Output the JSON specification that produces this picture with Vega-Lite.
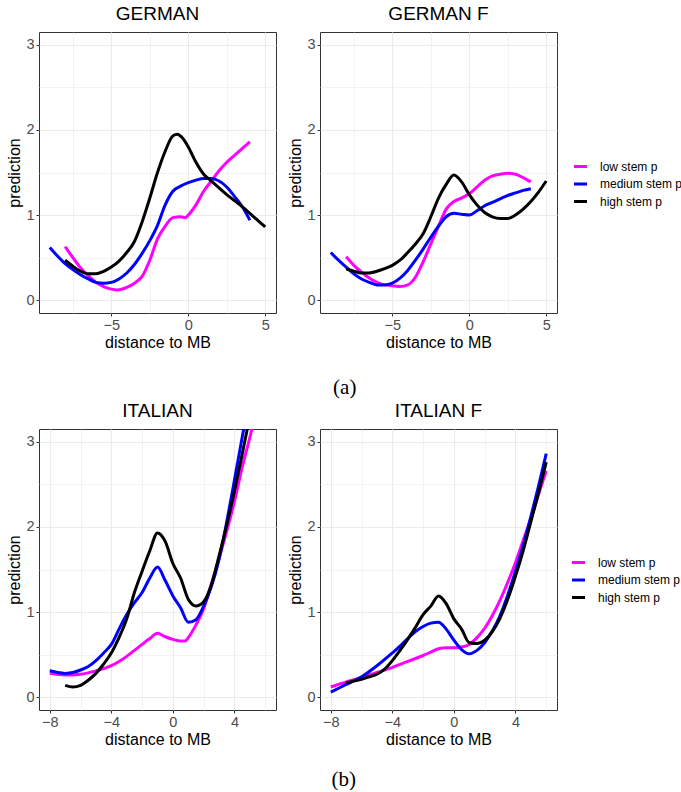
{
  "$schema": "https://vega.github.io/schema/vega-lite/v6.json",
  "padding": {"left": 6, "top": 4, "right": 0, "bottom": 0},
  "spacing": 3,
  "config": {
    "font": "Liberation Sans",
    "view": {"stroke": "#333333", "strokeWidth": 1},
    "axis": {
      "labelFont": "Liberation Sans", "labelFontSize": 14.5, "labelColor": "#4D4D4D",
      "titleFont": "Liberation Sans", "titleFontSize": 16, "titleFontWeight": "normal", "titleColor": "#000000",
      "domain": false, "tickColor": "#333333", "tickSize": 3, "labelPadding": 2, "titlePadding": 3,
      "gridColor": "#EBEBEB"
    },
    "title": {"font": "Liberation Sans", "fontSize": 19, "fontWeight": "normal", "color": "#000000", "offset": 8, "anchor": "middle"},
    "legend": {
      "title": null, "symbolType": "stroke", "symbolStrokeWidth": 3, "symbolSize": 170,
      "labelFont": "Liberation Sans", "labelFontSize": 12, "labelColor": "#000000",
      "rowPadding": 2.5, "labelOffset": 11
    }
  },
  "data": {"values": [
    {"p":"G","s":"low stem p","x":-8,"y":0.63},{"p":"G","s":"low stem p","x":-7.5,"y":0.5},{"p":"G","s":"low stem p","x":-7,"y":0.38},{"p":"G","s":"low stem p","x":-6.5,"y":0.29},{"p":"G","s":"low stem p","x":-6,"y":0.21},{"p":"G","s":"low stem p","x":-5.5,"y":0.16},{"p":"G","s":"low stem p","x":-5,"y":0.13},{"p":"G","s":"low stem p","x":-4.6,"y":0.12},{"p":"G","s":"low stem p","x":-4,"y":0.15},{"p":"G","s":"low stem p","x":-3.5,"y":0.2},{"p":"G","s":"low stem p","x":-3,"y":0.28},{"p":"G","s":"low stem p","x":-2.5,"y":0.47},{"p":"G","s":"low stem p","x":-2,"y":0.72},{"p":"G","s":"low stem p","x":-1.5,"y":0.87},{"p":"G","s":"low stem p","x":-1,"y":0.97},{"p":"G","s":"low stem p","x":-0.5,"y":0.98},{"p":"G","s":"low stem p","x":-0.2,"y":0.97},{"p":"G","s":"low stem p","x":0,"y":1.0},{"p":"G","s":"low stem p","x":0.5,"y":1.12},{"p":"G","s":"low stem p","x":1,"y":1.28},{"p":"G","s":"low stem p","x":1.5,"y":1.4},{"p":"G","s":"low stem p","x":2,"y":1.52},{"p":"G","s":"low stem p","x":2.5,"y":1.62},{"p":"G","s":"low stem p","x":3,"y":1.7},{"p":"G","s":"low stem p","x":3.5,"y":1.78},{"p":"G","s":"low stem p","x":4,"y":1.86},
    {"p":"G","s":"medium stem p","x":-9,"y":0.62},{"p":"G","s":"medium stem p","x":-8.5,"y":0.52},{"p":"G","s":"medium stem p","x":-8,"y":0.43},{"p":"G","s":"medium stem p","x":-7.5,"y":0.36},{"p":"G","s":"medium stem p","x":-7,"y":0.3},{"p":"G","s":"medium stem p","x":-6.5,"y":0.25},{"p":"G","s":"medium stem p","x":-6,"y":0.21},{"p":"G","s":"medium stem p","x":-5.5,"y":0.2},{"p":"G","s":"medium stem p","x":-5,"y":0.21},{"p":"G","s":"medium stem p","x":-4.5,"y":0.25},{"p":"G","s":"medium stem p","x":-4,"y":0.32},{"p":"G","s":"medium stem p","x":-3.5,"y":0.42},{"p":"G","s":"medium stem p","x":-3,"y":0.55},{"p":"G","s":"medium stem p","x":-2.5,"y":0.7},{"p":"G","s":"medium stem p","x":-2,"y":0.88},{"p":"G","s":"medium stem p","x":-1.5,"y":1.12},{"p":"G","s":"medium stem p","x":-1,"y":1.28},{"p":"G","s":"medium stem p","x":-0.5,"y":1.34},{"p":"G","s":"medium stem p","x":0,"y":1.38},{"p":"G","s":"medium stem p","x":0.5,"y":1.41},{"p":"G","s":"medium stem p","x":1,"y":1.43},{"p":"G","s":"medium stem p","x":1.5,"y":1.43},{"p":"G","s":"medium stem p","x":2,"y":1.4},{"p":"G","s":"medium stem p","x":2.5,"y":1.33},{"p":"G","s":"medium stem p","x":3,"y":1.22},{"p":"G","s":"medium stem p","x":3.5,"y":1.1},{"p":"G","s":"medium stem p","x":4,"y":0.94},
    {"p":"G","s":"high stem p","x":-8,"y":0.47},{"p":"G","s":"high stem p","x":-7.5,"y":0.4},{"p":"G","s":"high stem p","x":-7,"y":0.34},{"p":"G","s":"high stem p","x":-6.5,"y":0.31},{"p":"G","s":"high stem p","x":-6,"y":0.31},{"p":"G","s":"high stem p","x":-5.5,"y":0.34},{"p":"G","s":"high stem p","x":-5,"y":0.39},{"p":"G","s":"high stem p","x":-4.5,"y":0.46},{"p":"G","s":"high stem p","x":-4,"y":0.56},{"p":"G","s":"high stem p","x":-3.5,"y":0.69},{"p":"G","s":"high stem p","x":-3,"y":0.92},{"p":"G","s":"high stem p","x":-2.5,"y":1.2},{"p":"G","s":"high stem p","x":-2,"y":1.5},{"p":"G","s":"high stem p","x":-1.5,"y":1.75},{"p":"G","s":"high stem p","x":-1,"y":1.93},{"p":"G","s":"high stem p","x":-0.7,"y":1.95},{"p":"G","s":"high stem p","x":-0.4,"y":1.91},{"p":"G","s":"high stem p","x":0,"y":1.8},{"p":"G","s":"high stem p","x":0.5,"y":1.62},{"p":"G","s":"high stem p","x":1,"y":1.48},{"p":"G","s":"high stem p","x":1.5,"y":1.4},{"p":"G","s":"high stem p","x":2,"y":1.32},{"p":"G","s":"high stem p","x":2.5,"y":1.24},{"p":"G","s":"high stem p","x":3,"y":1.17},{"p":"G","s":"high stem p","x":3.5,"y":1.1},{"p":"G","s":"high stem p","x":4,"y":1.02},{"p":"G","s":"high stem p","x":4.5,"y":0.94},{"p":"G","s":"high stem p","x":5,"y":0.86},
    {"p":"GF","s":"low stem p","x":-8,"y":0.51},{"p":"GF","s":"low stem p","x":-7.5,"y":0.41},{"p":"GF","s":"low stem p","x":-7,"y":0.33},{"p":"GF","s":"low stem p","x":-6.5,"y":0.26},{"p":"GF","s":"low stem p","x":-6,"y":0.21},{"p":"GF","s":"low stem p","x":-5.5,"y":0.18},{"p":"GF","s":"low stem p","x":-5,"y":0.17},{"p":"GF","s":"low stem p","x":-4.5,"y":0.16},{"p":"GF","s":"low stem p","x":-4,"y":0.18},{"p":"GF","s":"low stem p","x":-3.5,"y":0.27},{"p":"GF","s":"low stem p","x":-3,"y":0.45},{"p":"GF","s":"low stem p","x":-2.5,"y":0.66},{"p":"GF","s":"low stem p","x":-2,"y":0.87},{"p":"GF","s":"low stem p","x":-1.5,"y":1.07},{"p":"GF","s":"low stem p","x":-1,"y":1.16},{"p":"GF","s":"low stem p","x":-0.5,"y":1.2},{"p":"GF","s":"low stem p","x":0,"y":1.25},{"p":"GF","s":"low stem p","x":0.5,"y":1.33},{"p":"GF","s":"low stem p","x":1,"y":1.41},{"p":"GF","s":"low stem p","x":1.5,"y":1.46},{"p":"GF","s":"low stem p","x":2,"y":1.48},{"p":"GF","s":"low stem p","x":2.5,"y":1.49},{"p":"GF","s":"low stem p","x":3,"y":1.48},{"p":"GF","s":"low stem p","x":3.5,"y":1.44},{"p":"GF","s":"low stem p","x":4,"y":1.39},
    {"p":"GF","s":"medium stem p","x":-9,"y":0.56},{"p":"GF","s":"medium stem p","x":-8.5,"y":0.47},{"p":"GF","s":"medium stem p","x":-8,"y":0.39},{"p":"GF","s":"medium stem p","x":-7.5,"y":0.31},{"p":"GF","s":"medium stem p","x":-7,"y":0.25},{"p":"GF","s":"medium stem p","x":-6.5,"y":0.21},{"p":"GF","s":"medium stem p","x":-6,"y":0.18},{"p":"GF","s":"medium stem p","x":-5.5,"y":0.18},{"p":"GF","s":"medium stem p","x":-5,"y":0.2},{"p":"GF","s":"medium stem p","x":-4.5,"y":0.26},{"p":"GF","s":"medium stem p","x":-4,"y":0.35},{"p":"GF","s":"medium stem p","x":-3.5,"y":0.47},{"p":"GF","s":"medium stem p","x":-3,"y":0.6},{"p":"GF","s":"medium stem p","x":-2.5,"y":0.74},{"p":"GF","s":"medium stem p","x":-2,"y":0.87},{"p":"GF","s":"medium stem p","x":-1.5,"y":0.98},{"p":"GF","s":"medium stem p","x":-1,"y":1.02},{"p":"GF","s":"medium stem p","x":-0.5,"y":1.01},{"p":"GF","s":"medium stem p","x":0,"y":1.0},{"p":"GF","s":"medium stem p","x":0.5,"y":1.05},{"p":"GF","s":"medium stem p","x":1,"y":1.11},{"p":"GF","s":"medium stem p","x":1.5,"y":1.15},{"p":"GF","s":"medium stem p","x":2,"y":1.19},{"p":"GF","s":"medium stem p","x":2.5,"y":1.23},{"p":"GF","s":"medium stem p","x":3,"y":1.26},{"p":"GF","s":"medium stem p","x":3.5,"y":1.29},{"p":"GF","s":"medium stem p","x":4,"y":1.31},
    {"p":"GF","s":"high stem p","x":-8,"y":0.37},{"p":"GF","s":"high stem p","x":-7.5,"y":0.34},{"p":"GF","s":"high stem p","x":-7,"y":0.32},{"p":"GF","s":"high stem p","x":-6.5,"y":0.32},{"p":"GF","s":"high stem p","x":-6,"y":0.34},{"p":"GF","s":"high stem p","x":-5.5,"y":0.37},{"p":"GF","s":"high stem p","x":-5,"y":0.41},{"p":"GF","s":"high stem p","x":-4.5,"y":0.47},{"p":"GF","s":"high stem p","x":-4,"y":0.56},{"p":"GF","s":"high stem p","x":-3.5,"y":0.66},{"p":"GF","s":"high stem p","x":-3,"y":0.78},{"p":"GF","s":"high stem p","x":-2.5,"y":0.98},{"p":"GF","s":"high stem p","x":-2,"y":1.2},{"p":"GF","s":"high stem p","x":-1.5,"y":1.36},{"p":"GF","s":"high stem p","x":-1,"y":1.47},{"p":"GF","s":"high stem p","x":-0.5,"y":1.39},{"p":"GF","s":"high stem p","x":0,"y":1.24},{"p":"GF","s":"high stem p","x":0.5,"y":1.12},{"p":"GF","s":"high stem p","x":1,"y":1.03},{"p":"GF","s":"high stem p","x":1.5,"y":0.98},{"p":"GF","s":"high stem p","x":2,"y":0.96},{"p":"GF","s":"high stem p","x":2.5,"y":0.96},{"p":"GF","s":"high stem p","x":3,"y":1.0},{"p":"GF","s":"high stem p","x":3.5,"y":1.07},{"p":"GF","s":"high stem p","x":4,"y":1.16},{"p":"GF","s":"high stem p","x":4.5,"y":1.27},{"p":"GF","s":"high stem p","x":5,"y":1.4},
    {"p":"I","s":"low stem p","x":-8,"y":0.28},{"p":"I","s":"low stem p","x":-7,"y":0.26},{"p":"I","s":"low stem p","x":-6,"y":0.27},{"p":"I","s":"low stem p","x":-5,"y":0.31},{"p":"I","s":"low stem p","x":-4,"y":0.37},{"p":"I","s":"low stem p","x":-3.5,"y":0.42},{"p":"I","s":"low stem p","x":-3,"y":0.48},{"p":"I","s":"low stem p","x":-2.5,"y":0.55},{"p":"I","s":"low stem p","x":-2,"y":0.62},{"p":"I","s":"low stem p","x":-1.5,"y":0.69},{"p":"I","s":"low stem p","x":-1,"y":0.75},{"p":"I","s":"low stem p","x":-0.5,"y":0.71},{"p":"I","s":"low stem p","x":0,"y":0.68},{"p":"I","s":"low stem p","x":0.5,"y":0.66},{"p":"I","s":"low stem p","x":0.8,"y":0.66},{"p":"I","s":"low stem p","x":1,"y":0.7},{"p":"I","s":"low stem p","x":1.5,"y":0.85},{"p":"I","s":"low stem p","x":2,"y":1.04},{"p":"I","s":"low stem p","x":2.5,"y":1.33},{"p":"I","s":"low stem p","x":3,"y":1.63},{"p":"I","s":"low stem p","x":3.5,"y":1.95},{"p":"I","s":"low stem p","x":4,"y":2.3},{"p":"I","s":"low stem p","x":4.5,"y":2.7},{"p":"I","s":"low stem p","x":5,"y":3.05},{"p":"I","s":"low stem p","x":5.5,"y":3.45},
    {"p":"I","s":"medium stem p","x":-8,"y":0.31},{"p":"I","s":"medium stem p","x":-7.5,"y":0.29},{"p":"I","s":"medium stem p","x":-7,"y":0.28},{"p":"I","s":"medium stem p","x":-6.5,"y":0.29},{"p":"I","s":"medium stem p","x":-6,"y":0.32},{"p":"I","s":"medium stem p","x":-5.5,"y":0.36},{"p":"I","s":"medium stem p","x":-5,"y":0.43},{"p":"I","s":"medium stem p","x":-4.5,"y":0.52},{"p":"I","s":"medium stem p","x":-4,"y":0.62},{"p":"I","s":"medium stem p","x":-3.5,"y":0.8},{"p":"I","s":"medium stem p","x":-3,"y":0.97},{"p":"I","s":"medium stem p","x":-2.5,"y":1.11},{"p":"I","s":"medium stem p","x":-2,"y":1.23},{"p":"I","s":"medium stem p","x":-1.5,"y":1.4},{"p":"I","s":"medium stem p","x":-1,"y":1.53},{"p":"I","s":"medium stem p","x":-0.5,"y":1.37},{"p":"I","s":"medium stem p","x":0,"y":1.19},{"p":"I","s":"medium stem p","x":0.5,"y":1.05},{"p":"I","s":"medium stem p","x":1,"y":0.88},{"p":"I","s":"medium stem p","x":1.5,"y":0.91},{"p":"I","s":"medium stem p","x":2,"y":1.07},{"p":"I","s":"medium stem p","x":2.5,"y":1.3},{"p":"I","s":"medium stem p","x":3,"y":1.62},{"p":"I","s":"medium stem p","x":3.5,"y":2.06},{"p":"I","s":"medium stem p","x":4,"y":2.55},{"p":"I","s":"medium stem p","x":4.5,"y":3.05},{"p":"I","s":"medium stem p","x":5,"y":3.55},
    {"p":"I","s":"high stem p","x":-7,"y":0.14},{"p":"I","s":"high stem p","x":-6.5,"y":0.12},{"p":"I","s":"high stem p","x":-6,"y":0.14},{"p":"I","s":"high stem p","x":-5.5,"y":0.2},{"p":"I","s":"high stem p","x":-5,"y":0.28},{"p":"I","s":"high stem p","x":-4.5,"y":0.39},{"p":"I","s":"high stem p","x":-4,"y":0.52},{"p":"I","s":"high stem p","x":-3.5,"y":0.7},{"p":"I","s":"high stem p","x":-3,"y":0.92},{"p":"I","s":"high stem p","x":-2.5,"y":1.23},{"p":"I","s":"high stem p","x":-2,"y":1.48},{"p":"I","s":"high stem p","x":-1.5,"y":1.72},{"p":"I","s":"high stem p","x":-1,"y":1.93},{"p":"I","s":"high stem p","x":-0.5,"y":1.83},{"p":"I","s":"high stem p","x":0,"y":1.57},{"p":"I","s":"high stem p","x":0.5,"y":1.4},{"p":"I","s":"high stem p","x":1,"y":1.15},{"p":"I","s":"high stem p","x":1.5,"y":1.07},{"p":"I","s":"high stem p","x":2,"y":1.12},{"p":"I","s":"high stem p","x":2.5,"y":1.32},{"p":"I","s":"high stem p","x":3,"y":1.66},{"p":"I","s":"high stem p","x":3.5,"y":2.02},{"p":"I","s":"high stem p","x":4,"y":2.42},{"p":"I","s":"high stem p","x":4.5,"y":2.85},{"p":"I","s":"high stem p","x":5,"y":3.3},
    {"p":"IF","s":"low stem p","x":-8,"y":0.12},{"p":"IF","s":"low stem p","x":-7,"y":0.18},{"p":"IF","s":"low stem p","x":-6,"y":0.23},{"p":"IF","s":"low stem p","x":-5,"y":0.29},{"p":"IF","s":"low stem p","x":-4,"y":0.35},{"p":"IF","s":"low stem p","x":-3,"y":0.42},{"p":"IF","s":"low stem p","x":-2,"y":0.49},{"p":"IF","s":"low stem p","x":-1.5,"y":0.53},{"p":"IF","s":"low stem p","x":-1,"y":0.57},{"p":"IF","s":"low stem p","x":-0.5,"y":0.58},{"p":"IF","s":"low stem p","x":0,"y":0.58},{"p":"IF","s":"low stem p","x":0.5,"y":0.59},{"p":"IF","s":"low stem p","x":1,"y":0.62},{"p":"IF","s":"low stem p","x":1.5,"y":0.7},{"p":"IF","s":"low stem p","x":2,"y":0.81},{"p":"IF","s":"low stem p","x":2.5,"y":0.96},{"p":"IF","s":"low stem p","x":3,"y":1.14},{"p":"IF","s":"low stem p","x":3.5,"y":1.35},{"p":"IF","s":"low stem p","x":4,"y":1.58},{"p":"IF","s":"low stem p","x":4.5,"y":1.84},{"p":"IF","s":"low stem p","x":5,"y":2.1},{"p":"IF","s":"low stem p","x":5.5,"y":2.38},{"p":"IF","s":"low stem p","x":6,"y":2.66},
    {"p":"IF","s":"medium stem p","x":-8,"y":0.06},{"p":"IF","s":"medium stem p","x":-7,"y":0.15},{"p":"IF","s":"medium stem p","x":-6,"y":0.24},{"p":"IF","s":"medium stem p","x":-5,"y":0.37},{"p":"IF","s":"medium stem p","x":-4,"y":0.52},{"p":"IF","s":"medium stem p","x":-3.5,"y":0.6},{"p":"IF","s":"medium stem p","x":-3,"y":0.69},{"p":"IF","s":"medium stem p","x":-2.5,"y":0.77},{"p":"IF","s":"medium stem p","x":-2,"y":0.83},{"p":"IF","s":"medium stem p","x":-1.5,"y":0.87},{"p":"IF","s":"medium stem p","x":-1,"y":0.88},{"p":"IF","s":"medium stem p","x":-0.5,"y":0.8},{"p":"IF","s":"medium stem p","x":0,"y":0.67},{"p":"IF","s":"medium stem p","x":0.5,"y":0.56},{"p":"IF","s":"medium stem p","x":1,"y":0.51},{"p":"IF","s":"medium stem p","x":1.5,"y":0.55},{"p":"IF","s":"medium stem p","x":2,"y":0.64},{"p":"IF","s":"medium stem p","x":2.5,"y":0.78},{"p":"IF","s":"medium stem p","x":3,"y":0.96},{"p":"IF","s":"medium stem p","x":3.5,"y":1.2},{"p":"IF","s":"medium stem p","x":4,"y":1.48},{"p":"IF","s":"medium stem p","x":4.5,"y":1.78},{"p":"IF","s":"medium stem p","x":5,"y":2.12},{"p":"IF","s":"medium stem p","x":5.5,"y":2.48},{"p":"IF","s":"medium stem p","x":6,"y":2.86},
    {"p":"IF","s":"high stem p","x":-7,"y":0.17},{"p":"IF","s":"high stem p","x":-6.5,"y":0.19},{"p":"IF","s":"high stem p","x":-6,"y":0.21},{"p":"IF","s":"high stem p","x":-5.5,"y":0.24},{"p":"IF","s":"high stem p","x":-5,"y":0.27},{"p":"IF","s":"high stem p","x":-4.5,"y":0.33},{"p":"IF","s":"high stem p","x":-4,"y":0.43},{"p":"IF","s":"high stem p","x":-3.5,"y":0.55},{"p":"IF","s":"high stem p","x":-3,"y":0.68},{"p":"IF","s":"high stem p","x":-2.5,"y":0.82},{"p":"IF","s":"high stem p","x":-2,"y":0.97},{"p":"IF","s":"high stem p","x":-1.5,"y":1.07},{"p":"IF","s":"high stem p","x":-1,"y":1.19},{"p":"IF","s":"high stem p","x":-0.5,"y":1.1},{"p":"IF","s":"high stem p","x":0,"y":0.92},{"p":"IF","s":"high stem p","x":0.5,"y":0.8},{"p":"IF","s":"high stem p","x":1,"y":0.64},{"p":"IF","s":"high stem p","x":1.5,"y":0.63},{"p":"IF","s":"high stem p","x":2,"y":0.67},{"p":"IF","s":"high stem p","x":2.5,"y":0.77},{"p":"IF","s":"high stem p","x":3,"y":0.93},{"p":"IF","s":"high stem p","x":3.5,"y":1.15},{"p":"IF","s":"high stem p","x":4,"y":1.42},{"p":"IF","s":"high stem p","x":4.5,"y":1.72},{"p":"IF","s":"high stem p","x":5,"y":2.06},{"p":"IF","s":"high stem p","x":5.5,"y":2.4},{"p":"IF","s":"high stem p","x":6,"y":2.76}
  ]},
  "resolve": {"scale": {"color": "independent"}},
  "vconcat": [
    {
      "hconcat": [
        {
          "width": 237, "height": 281, "title": "GERMAN",
          "transform": [{"filter": "datum.p == 'G'"}],
          "mark": {"type": "line", "strokeWidth": 3, "clip": true, "interpolate": "monotone"},
          "encoding": {
            "x": {"field": "x", "type": "quantitative", "title": "distance to MB", "scale": {"domain": [-9.7, 5.7], "nice": false, "zero": false},
              "axis": {"values": [-7.5, -5, -2.5, 0, 2.5, 5], "labelExpr": "datum.value % 5 == 0 ? replace(format(datum.value, 'd'), '-', '\u2212') : ''", "tickOpacity": {"condition": {"test": "datum.value % 5 != 0", "value": 0}, "value": 1}, "gridWidth": {"condition": {"test": "datum.value % 5 != 0", "value": 0.6}, "value": 1.1}}},
            "y": {"field": "y", "type": "quantitative", "title": "prediction", "scale": {"domain": [-0.15, 3.15], "nice": false, "zero": false},
              "axis": {"values": [0, 0.5, 1, 1.5, 2, 2.5, 3], "labelExpr": "datum.value % 1 == 0 ? format(datum.value, 'd') : ''", "tickOpacity": {"condition": {"test": "datum.value % 1 != 0", "value": 0}, "value": 1}, "gridWidth": {"condition": {"test": "datum.value % 1 != 0", "value": 0.6}, "value": 1.1}}},
            "color": {"field": "s", "type": "nominal", "scale": {"domain": ["low stem p", "medium stem p", "high stem p"], "range": ["#FF00FF", "#0000FF", "#000000"]},
              "legend": {"orient": "none", "legendX": 533, "legendY": 126}}
          }
        },
        {
          "width": 237, "height": 281, "title": "GERMAN F",
          "transform": [{"filter": "datum.p == 'GF'"}],
          "mark": {"type": "line", "strokeWidth": 3, "clip": true, "interpolate": "monotone"},
          "encoding": {
            "x": {"field": "x", "type": "quantitative", "title": "distance to MB", "scale": {"domain": [-9.7, 5.7], "nice": false, "zero": false},
              "axis": {"values": [-7.5, -5, -2.5, 0, 2.5, 5], "labelExpr": "datum.value % 5 == 0 ? replace(format(datum.value, 'd'), '-', '\u2212') : ''", "tickOpacity": {"condition": {"test": "datum.value % 5 != 0", "value": 0}, "value": 1}, "gridWidth": {"condition": {"test": "datum.value % 5 != 0", "value": 0.6}, "value": 1.1}}},
            "y": {"field": "y", "type": "quantitative", "title": "prediction", "scale": {"domain": [-0.15, 3.15], "nice": false, "zero": false},
              "axis": {"values": [0, 0.5, 1, 1.5, 2, 2.5, 3], "labelExpr": "datum.value % 1 == 0 ? format(datum.value, 'd') : ''", "tickOpacity": {"condition": {"test": "datum.value % 1 != 0", "value": 0}, "value": 1}, "gridWidth": {"condition": {"test": "datum.value % 1 != 0", "value": 0.6}, "value": 1.1}}},
            "color": {"field": "s", "type": "nominal", "scale": {"domain": ["low stem p", "medium stem p", "high stem p"], "range": ["#FF00FF", "#0000FF", "#000000"]},
              "legend": {"orient": "none", "legendX": 533, "legendY": 126}}
          }
        }
      ],
      "bounds": "flush",
      "spacing": 44,
      "title": {"text": "(a)", "orient": "bottom", "font": "Liberation Serif", "fontSize": 21, "fontWeight": "normal", "frame": "bounds", "anchor": "middle", "offset": 26}
    },
    {
      "hconcat": [
        {
          "width": 237, "height": 281, "title": "ITALIAN",
          "transform": [{"filter": "datum.p == 'I'"}],
          "mark": {"type": "line", "strokeWidth": 3, "clip": true, "interpolate": "monotone"},
          "encoding": {
            "x": {"field": "x", "type": "quantitative", "title": "distance to MB", "scale": {"domain": [-8.7, 6.7], "nice": false, "zero": false},
              "axis": {"values": [-8, -6, -4, -2, 0, 2, 4, 6], "labelExpr": "datum.value % 4 == 0 ? replace(format(datum.value, 'd'), '-', '\u2212') : ''", "tickOpacity": {"condition": {"test": "datum.value % 4 != 0", "value": 0}, "value": 1}, "gridWidth": {"condition": {"test": "datum.value % 4 != 0", "value": 0.6}, "value": 1.1}}},
            "y": {"field": "y", "type": "quantitative", "title": "prediction", "scale": {"domain": [-0.15, 3.15], "nice": false, "zero": false},
              "axis": {"values": [0, 0.5, 1, 1.5, 2, 2.5, 3], "labelExpr": "datum.value % 1 == 0 ? format(datum.value, 'd') : ''", "tickOpacity": {"condition": {"test": "datum.value % 1 != 0", "value": 0}, "value": 1}, "gridWidth": {"condition": {"test": "datum.value % 1 != 0", "value": 0.6}, "value": 1.1}}},
            "color": {"field": "s", "type": "nominal", "scale": {"domain": ["low stem p", "medium stem p", "high stem p"], "range": ["#FF00FF", "#0000FF", "#000000"]},
              "legend": {"orient": "none", "legendX": 531, "legendY": 125}}
          }
        },
        {
          "width": 237, "height": 281, "title": "ITALIAN F",
          "transform": [{"filter": "datum.p == 'IF'"}],
          "mark": {"type": "line", "strokeWidth": 3, "clip": true, "interpolate": "monotone"},
          "encoding": {
            "x": {"field": "x", "type": "quantitative", "title": "distance to MB", "scale": {"domain": [-8.7, 6.7], "nice": false, "zero": false},
              "axis": {"values": [-8, -6, -4, -2, 0, 2, 4, 6], "labelExpr": "datum.value % 4 == 0 ? replace(format(datum.value, 'd'), '-', '\u2212') : ''", "tickOpacity": {"condition": {"test": "datum.value % 4 != 0", "value": 0}, "value": 1}, "gridWidth": {"condition": {"test": "datum.value % 4 != 0", "value": 0.6}, "value": 1.1}}},
            "y": {"field": "y", "type": "quantitative", "title": "prediction", "scale": {"domain": [-0.15, 3.15], "nice": false, "zero": false},
              "axis": {"values": [0, 0.5, 1, 1.5, 2, 2.5, 3], "labelExpr": "datum.value % 1 == 0 ? format(datum.value, 'd') : ''", "tickOpacity": {"condition": {"test": "datum.value % 1 != 0", "value": 0}, "value": 1}, "gridWidth": {"condition": {"test": "datum.value % 1 != 0", "value": 0.6}, "value": 1.1}}},
            "color": {"field": "s", "type": "nominal", "scale": {"domain": ["low stem p", "medium stem p", "high stem p"], "range": ["#FF00FF", "#0000FF", "#000000"]},
              "legend": {"orient": "none", "legendX": 531, "legendY": 125}}
          }
        }
      ],
      "bounds": "flush",
      "spacing": 44,
      "title": {"text": "(b)", "orient": "bottom", "font": "Liberation Serif", "fontSize": 21, "fontWeight": "normal", "frame": "bounds", "anchor": "middle", "offset": 21}
    }
  ]
}
